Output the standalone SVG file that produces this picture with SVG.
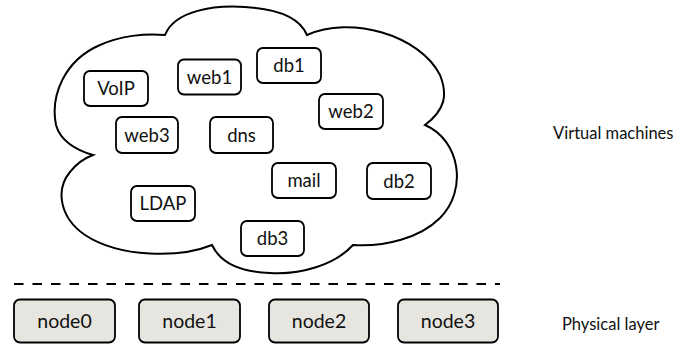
<svg xmlns="http://www.w3.org/2000/svg" width="683" height="344" viewBox="0 0 683 344">
<style>
text{font-family:Lato,"Noto Sans",sans-serif;fill:#111;text-anchor:middle}
.vm rect{fill:#fff;stroke:#000;stroke-width:1.8}
.vm text{font-size:18.5px}
.pn rect{fill:#e6e5df;stroke:#000;stroke-width:1.8}
.pn text{font-size:19.5px}
.lbl{font-size:16.5px;text-anchor:start}
</style>
<rect width="683" height="344" fill="#fff"/>
<g id="cloud">
<path d="M165,35 C175,10 215,5 245,7 C280,9 300,18 307,35 C350,15 420,35 440,75 C448,95 445,110 425,125 C460,140 468,190 440,218 C420,238 385,247 353,245 C335,265 300,275 270,273 C240,272 220,262 212,245 C180,258 120,258 85,235 C60,218 55,190 70,172 C77,163 85,158 93,155 C75,150 60,140 56,125 C50,95 65,60 100,45 C120,36 145,33 165,35 Z" fill="#fff" stroke="#000" stroke-width="2"/>
</g>
<g id="VoIP" class="vm"><rect x="84" y="71" width="64" height="35" rx="6"/><text x="116" y="95">VoIP</text></g>
<g id="web1" class="vm"><rect x="178" y="59.5" width="63" height="35" rx="6"/><text x="209.5" y="83.5">web1</text></g>
<g id="db1" class="vm"><rect x="257" y="48" width="64" height="35" rx="6"/><text x="289" y="72">db1</text></g>
<g id="web2" class="vm"><rect x="319" y="94" width="64" height="35" rx="6"/><text x="351" y="118">web2</text></g>
<g id="web3" class="vm"><rect x="116" y="117" width="62" height="36" rx="6"/><text x="147" y="141.5">web3</text></g>
<g id="dns" class="vm"><rect x="210" y="117" width="63" height="36" rx="6"/><text x="241.5" y="141.5">dns</text></g>
<g id="mail" class="vm"><rect x="272" y="163" width="64" height="35" rx="6"/><text x="304" y="187">mail</text></g>
<g id="db2" class="vm"><rect x="367" y="163" width="64" height="36" rx="6"/><text x="399" y="187.5">db2</text></g>
<g id="LDAP" class="vm"><rect x="131" y="186" width="64" height="35" rx="6"/><text x="163" y="210">LDAP</text></g>
<g id="db3" class="vm"><rect x="241" y="221" width="63" height="35" rx="6"/><text x="272.5" y="245">db3</text></g>
<g id="connectors">
<line x1="14" y1="284" x2="500" y2="284" stroke="#000" stroke-width="2" stroke-dasharray="9.5 9"/>
</g>
<g id="node0" class="pn"><rect x="14" y="299.5" width="101" height="43" rx="6"/><text x="64.5" y="327.5">node0</text></g>
<g id="node1" class="pn"><rect x="139" y="299.5" width="101" height="43" rx="6"/><text x="189.5" y="327.5">node1</text></g>
<g id="node2" class="pn"><rect x="269" y="299.5" width="100" height="43" rx="6"/><text x="319" y="327.5">node2</text></g>
<g id="node3" class="pn"><rect x="398" y="299.5" width="100" height="43" rx="6"/><text x="448" y="327.5">node3</text></g>
<g id="virtual-label"><text class="lbl" x="553" y="139">Virtual machines</text></g>
<g id="physical-label"><text class="lbl" x="562" y="330">Physical layer</text></g>
</svg>
